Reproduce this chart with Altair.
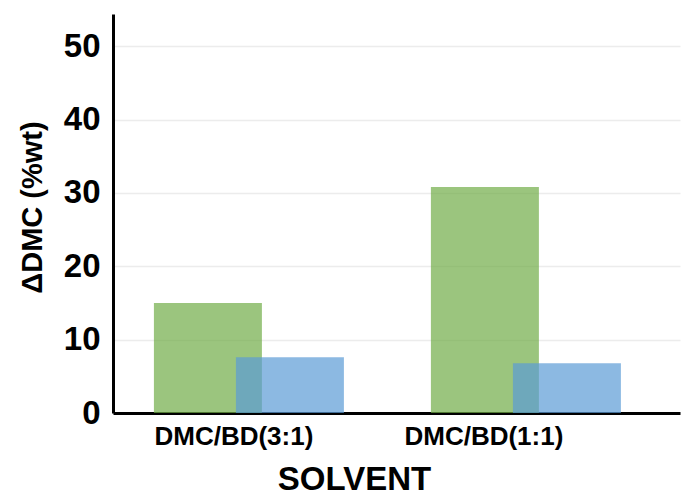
import altair as alt
import pandas as pd

categories = ["DMC/BD(3:1)", "DMC/BD(1:1)"]
series_a = [15.0, 30.8]   # green
series_b = [7.6, 6.8]     # blue

df_a = pd.DataFrame({"solvent": categories, "value": series_a})
df_b = pd.DataFrame({"solvent": categories, "value": series_b})

x_enc = alt.X(
    "solvent:N",
    sort=categories,
    scale=alt.Scale(paddingInner=0.5, paddingOuter=0.2735, align=0.44),
    axis=alt.Axis(
        title="SOLVENT",
        titleFont="Liberation Sans",
        titleFontSize=33,
        titleFontWeight="bold",
        titleColor="black",
        titleX=241,
        titleY=76,
        titleBaseline="alphabetic",
        labelAngle=0,
        labelFont="Liberation Sans",
        labelFontSize=26,
        labelFontWeight="bold",
        labelColor="black",
        labelPadding=10,
        labelOffset={"condition": {"test": "datum.value == 'DMC/BD(3:1)'", "value": -15}, "value": -42},
        ticks=False,
        domainColor="black",
        domainWidth=3,
        grid=False,
    ),
)

y_enc = alt.Y(
    "value:Q",
    scale=alt.Scale(domain=[0, 54.4], nice=False),
    axis=alt.Axis(
        title="ΔDMC (%wt)",
        titleFont="Liberation Sans",
        titleFontSize=29,
        titleFontWeight="bold",
        titleColor="black",
        titleAngle=-90,
        titleX=-66,
        titleY=193,
        titleAlign="center",
        titleBaseline="bottom",
        values=[0, 10, 20, 30, 40, 50],
        labelFont="Liberation Sans",
        labelFontSize=33,
        labelFontWeight="bold",
        labelColor="black",
        labelPadding=13,
        ticks=False,
        domainColor="black",
        domainWidth=3,
        gridColor="#ececec",
        gridWidth=1.5,
    ),
)

green = alt.Chart(df_a).mark_bar(
    color="#70AD47", opacity=0.7, width=108, xOffset=-41
).encode(x=x_enc, y=y_enc)

blue = alt.Chart(df_b).mark_bar(
    color="#5B9BD5", opacity=0.7, width=108, xOffset=41
).encode(x=x_enc, y=y_enc)

chart = alt.layer(green, blue).properties(
    width=567,
    height=399,
    padding={"left": 113, "top": 14, "right": 1, "bottom": 84},
    autosize="none",
    background="white",
).configure_view(stroke=None)

chart.save("out.html", embed_options={"renderer": "svg", "actions": False})
